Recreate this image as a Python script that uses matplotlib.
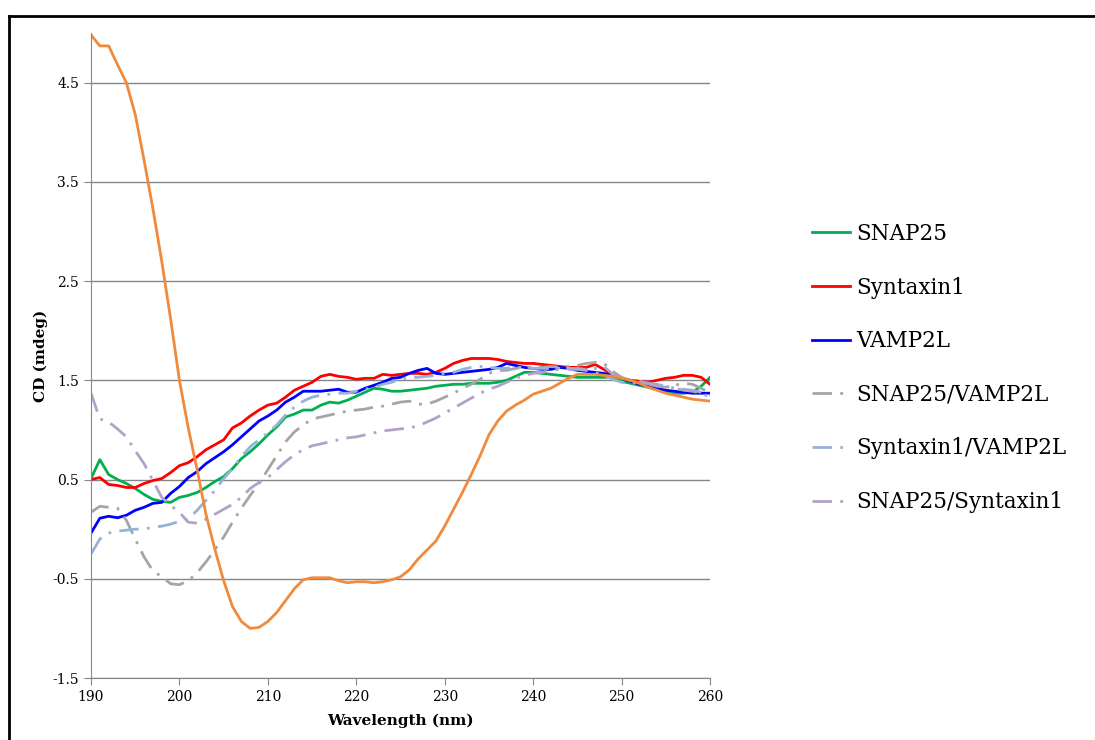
import matplotlib
matplotlib.use("Agg")
import matplotlib.pyplot as plt
import numpy as np
from matplotlib.lines import Line2D

plt.rcParams["font.family"] = ["DejaVu Serif"]

wavelength = np.arange(190, 261)

snap25 = [0.51, 0.70, 0.55, 0.50, 0.46, 0.41, 0.35, 0.30, 0.28, 0.27,
          0.32, 0.34, 0.37, 0.42, 0.48, 0.53, 0.61, 0.71, 0.78, 0.86,
          0.95, 1.03, 1.13, 1.16, 1.20, 1.20, 1.25, 1.28, 1.27, 1.30,
          1.34, 1.38, 1.42, 1.41, 1.39, 1.39, 1.40, 1.41, 1.42, 1.44,
          1.45, 1.46, 1.46, 1.47, 1.47, 1.47, 1.48, 1.50, 1.54, 1.58,
          1.58, 1.57, 1.56, 1.55, 1.54, 1.53, 1.53, 1.53, 1.53, 1.53,
          1.49, 1.47, 1.45, 1.43, 1.41, 1.39, 1.37, 1.37, 1.38, 1.44,
          1.53]
syntaxin1 = [0.50, 0.52, 0.45, 0.44, 0.42, 0.42, 0.46, 0.49, 0.51, 0.57,
             0.64, 0.67, 0.73, 0.80, 0.85, 0.90, 1.02, 1.07, 1.14, 1.20,
             1.25, 1.27, 1.33, 1.40, 1.44, 1.48, 1.54, 1.56, 1.54, 1.53,
             1.51, 1.52, 1.52, 1.56, 1.55, 1.56, 1.57, 1.57, 1.56, 1.58,
             1.62, 1.67, 1.70, 1.72, 1.72, 1.72, 1.71, 1.69, 1.68, 1.67,
             1.67, 1.66, 1.65, 1.64, 1.63, 1.63, 1.63, 1.66, 1.61, 1.55,
             1.52, 1.50, 1.49, 1.48, 1.50, 1.52, 1.53, 1.55, 1.55, 1.53,
             1.46]
vamp2l = [-0.04, 0.11, 0.13, 0.115, 0.14, 0.19, 0.22, 0.26, 0.27, 0.36,
          0.43, 0.52, 0.58, 0.66, 0.72, 0.78, 0.85, 0.93, 1.01, 1.09,
          1.14, 1.20, 1.28, 1.33, 1.39, 1.39, 1.39, 1.40, 1.41, 1.38,
          1.38, 1.42, 1.45, 1.48, 1.52, 1.53, 1.57, 1.60, 1.62, 1.57,
          1.56, 1.57, 1.58, 1.59, 1.60, 1.61, 1.63, 1.67, 1.65, 1.63,
          1.62, 1.61, 1.61, 1.63, 1.62, 1.60, 1.59, 1.58, 1.57, 1.55,
          1.52, 1.49, 1.46, 1.44, 1.42, 1.40, 1.39, 1.38, 1.37, 1.37,
          1.37]
snap25_vamp2l = [0.17, 0.23, 0.22, 0.21, 0.09, -0.10, -0.28, -0.42, -0.48, -0.55,
                 -0.56, -0.52, -0.44, -0.33, -0.21, -0.08, 0.07, 0.21, 0.34, 0.46,
                 0.60, 0.74, 0.88, 0.98, 1.05, 1.11, 1.13, 1.15, 1.17, 1.19,
                 1.20, 1.21, 1.23, 1.24, 1.26, 1.28, 1.29, 1.26, 1.26, 1.29,
                 1.33, 1.37, 1.42, 1.46, 1.51, 1.57, 1.60, 1.60, 1.62, 1.63,
                 1.63, 1.63, 1.64, 1.63, 1.64, 1.65, 1.67, 1.68, 1.67, 1.59,
                 1.53, 1.50, 1.48, 1.46, 1.44, 1.43, 1.45, 1.47, 1.46, 1.42,
                 1.37]
syntaxin1_vamp2l = [-0.25, -0.10, -0.04, -0.02, -0.01, 0.00, 0.00, 0.02, 0.03, 0.05,
                    0.08, 0.10, 0.19, 0.29, 0.39, 0.51, 0.61, 0.73, 0.83, 0.90,
                    0.97, 1.05, 1.15, 1.23, 1.29, 1.33, 1.35, 1.36, 1.37, 1.37,
                    1.39, 1.41, 1.43, 1.46, 1.48, 1.51, 1.53, 1.53, 1.54, 1.55,
                    1.57, 1.58, 1.61, 1.63, 1.64, 1.63, 1.62, 1.62, 1.63, 1.63,
                    1.62, 1.62, 1.62, 1.62, 1.61, 1.61, 1.60, 1.58, 1.55, 1.51,
                    1.48, 1.47, 1.48, 1.47, 1.46, 1.44, 1.42, 1.41, 1.40, 1.38,
                    1.35]
snap25_syntaxin1 = [1.37, 1.11, 1.08, 1.01, 0.93, 0.79, 0.66, 0.49, 0.32, 0.24,
                    0.17, 0.07, 0.06, 0.10, 0.15, 0.20, 0.25, 0.32, 0.41, 0.47,
                    0.52, 0.60, 0.68, 0.75, 0.80, 0.84, 0.86, 0.88, 0.90, 0.92,
                    0.93, 0.95, 0.97, 0.99, 1.00, 1.01, 1.02, 1.04, 1.08, 1.12,
                    1.17, 1.22, 1.27, 1.32, 1.37, 1.41, 1.44, 1.48, 1.52, 1.55,
                    1.57, 1.58, 1.60, 1.61, 1.62, 1.62, 1.61, 1.62, 1.64, 1.56,
                    1.52, 1.50, 1.49, 1.47, 1.45, 1.44, 1.42, 1.40, 1.39, 1.37,
                    1.33]
unlabeled = [4.98, 4.87, 4.87, 4.68, 4.50, 4.18, 3.72, 3.23, 2.70, 2.12,
             1.50, 1.02, 0.60, 0.15, -0.20, -0.52, -0.78, -0.93, -1.00, -0.99,
             -0.93, -0.84, -0.72, -0.60, -0.51, -0.49, -0.49, -0.49, -0.52, -0.54,
             -0.53, -0.53, -0.54, -0.53, -0.51, -0.48, -0.41, -0.30, -0.21, -0.12,
             0.03, 0.20, 0.37, 0.55, 0.74, 0.95, 1.09, 1.19, 1.25, 1.30,
             1.36, 1.39, 1.42, 1.47, 1.52, 1.56, 1.56, 1.56, 1.55, 1.54,
             1.52, 1.50, 1.47, 1.43, 1.40, 1.37, 1.35, 1.33, 1.31, 1.30,
             1.29]

yticks = [-1.5, -0.5, 0.5, 1.5, 2.5, 3.5, 4.5]
xticks = [190, 200, 210, 220, 230, 240, 250, 260]

fig = plt.figure(figsize=(10.95, 7.4), dpi=100)
ax = fig.add_axes([91 / 1095, 1 - 678 / 740, (710 - 91) / 1095, (678 - 33) / 740])

dashdot = (0, (7, 3, 1, 3))
lw = 2.0
ax.plot(wavelength, snap25, color="#00B050", lw=lw, label="SNAP25")
ax.plot(wavelength, syntaxin1, color="#FF0000", lw=lw, label="Syntaxin1")
ax.plot(wavelength, vamp2l, color="#0000FF", lw=lw, label="VAMP2L")
ax.plot(wavelength, snap25_vamp2l, color="#A5A5A5", lw=lw, ls=dashdot,
        label="SNAP25/VAMP2L")
ax.plot(wavelength, syntaxin1_vamp2l, color="#95B3D7", lw=lw, ls=dashdot,
        label="Syntaxin1/VAMP2L")
ax.plot(wavelength, snap25_syntaxin1, color="#B3A2C7", lw=lw, ls=dashdot,
        label="SNAP25/Syntaxin1")
ax.plot(wavelength, unlabeled, color="#F08A3C", lw=lw)

ax.set_xlim(190, 260)
ax.set_ylim(-1.5, 5.0)
ax.set_xticks(xticks)
ax.set_yticks(yticks)
ax.set_yticklabels(["-1.5", "-0.5", "0.5", "1.5", "2.5", "3.5", "4.5"])
ax.grid(axis="y", color="#868686", lw=1.0)
ax.set_axisbelow(True)
for s in ("top", "right"):
    ax.spines[s].set_visible(False)
for s in ("left", "bottom"):
    ax.spines[s].set_color("#868686")
ax.tick_params(colors="#868686", labelcolor="black", labelsize=10, length=5)
ax.set_xlabel("Wavelength (nm)", fontsize=11, fontweight="bold", labelpad=7)
ax.set_ylabel("CD (mdeg)", fontsize=11, fontweight="bold", labelpad=3)

handles, labels = ax.get_legend_handles_labels()
fig.legend(handles, labels, loc="center left", bbox_to_anchor=(793 / 1095, 1 - 368 / 740),
           frameon=False, fontsize=15.5, handlelength=1.75, handletextpad=0.3,
           labelspacing=1.47)

# outer chart frame (only top/left visible in the crop)
fig.add_artist(Line2D([9 / 1095, 9 / 1095], [0, 1 - 16 / 740], color="black", lw=2,
                      transform=fig.transFigure))
fig.add_artist(Line2D([9 / 1095, 1], [1 - 16 / 740, 1 - 16 / 740], color="black", lw=2,
                      transform=fig.transFigure))

fig.savefig("out.png", dpi=100)
